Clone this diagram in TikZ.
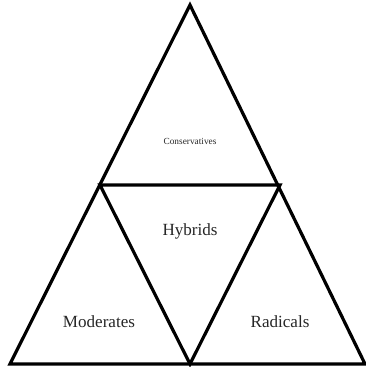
\documentclass[tikz,border=0pt]{standalone}
\usepackage{fontspec}
\setmainfont{Liberation Serif}
\begin{document}
\begin{tikzpicture}[x=0.75pt,y=-0.75pt,
  edge/.style={line width=2.4pt,line join=miter},
  lbl/.style={font=\fontsize{12.8}{14}\selectfont,text=black!85},
  small/.style={font=\fontsize{7}{8}\selectfont,text=black!85}]
\useasboundingbox (0,0) rectangle (365,367);
\coordinate (A) at (190,5);
\coordinate (L) at (10,364);
\coordinate (R) at (365,364);
\coordinate (ML) at (100,185);
\coordinate (MR) at (280,185);
\coordinate (MB) at (190,364);
\draw[edge] (A) -- (R) -- (L) -- cycle;
\draw[edge] (ML) -- (MR) -- (MB) -- cycle;
\node[small] (cons) at (190,141) {Conservatives};
\node[lbl] (hyb) at (190,231) {Hybrids};
\node[lbl] (mod) at (99,322) {Moderates};
\node[lbl] (rad) at (280,322) {Radicals};
\end{tikzpicture}
\end{document}
